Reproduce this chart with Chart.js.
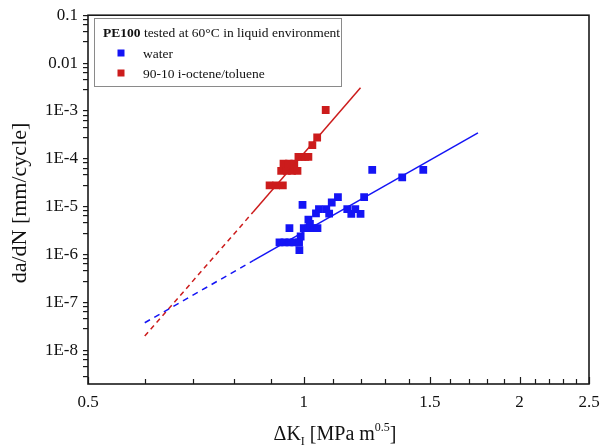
<!DOCTYPE html>
<html>
<head>
<meta charset="utf-8">
<script src="https://cdn.jsdelivr.net/npm/chart.js@4.4.1/dist/chart.umd.min.js"></script>
<style>
html, body { margin: 0; padding: 0; background: #fff; }
</style>
</head>
<body>
<canvas id="crackChart" width="612" height="446"></canvas>
<script>
// crack growth rate vs stress intensity factor range
const waterK = [0.925, 0.94, 0.955, 0.97, 0.985, 0.986, 0.99, 0.955, 0.996, 1.0, 1.015, 1.03, 1.045, 1.015, 1.02,
    1.04, 1.05, 1.075, 1.085, 1.094, 1.116, 1.15, 1.165, 1.18, 1.2, 1.214, 1.246, 1.372, 1.468]
const waterRate = [1.8e-6, 1.8e-6, 1.8e-6, 1.8e-6, 1.8e-6, 1.25e-6, 2.4e-6, 3.6e-6, 1.1e-5, 3.6e-6, 3.6e-6, 3.6e-6, 3.6e-6, 5.4e-6, 4.4e-6,
    7.3e-6, 8.9e-6, 8.9e-6, 7.2e-6, 1.23e-5, 1.6e-5, 8.9e-6, 7.1e-6, 8.9e-6, 7.1e-6, 1.6e-5, 5.9e-5, 4.1e-5, 5.9e-5]

const tolueneK = [0.896, 0.915, 0.935, 0.93, 0.947, 0.963, 0.98, 0.937, 0.953, 0.97, 0.983, 0.995, 1.005, 1.015, 1.028, 1.044, 1.073]
const tolueneRate = [2.8e-5, 2.8e-5, 2.8e-5, 5.6e-5, 5.6e-5, 5.6e-5, 5.6e-5, 8e-5, 8e-5, 8e-5, 1.1e-4, 1.1e-4, 1.1e-4, 1.1e-4, 1.95e-4, 2.8e-4, 1.05e-3]

// fitted power law lines: dashed extrapolation up to the middle point, solid after
const waterFitK = [0.6, 0.85, 1.75]
const waterFitRate = [3.8e-8, 7.5e-7, 3.5e-4]
const tolueneFitK = [0.6, 0.85, 1.2]
const tolueneFitRate = [2e-8, 7.8e-6, 3.05e-3]

// axis ticks
const xTickValues = [0.5, 0.6, 0.7, 0.8, 0.9, 1, 1.1, 1.2, 1.3, 1.4, 1.5, 1.6, 1.7, 1.8, 1.9, 2, 2.1, 2.2, 2.3, 2.4, 2.5]
const xTickLabels = ["0.5", "", "", "", "", "1", "", "", "", "", "1.5", "", "", "", "", "2", "", "", "", "", "2.5"]
const yMajorValues = [1e-8, 1e-7, 1e-6, 1e-5, 1e-4, 1e-3, 0.01, 0.1]
const yMajorLabels = ["1E-8", "1E-7", "1E-6", "1E-5", "1E-4", "1E-3", "0.01", "0.1"]
const yMinorSteps = [2.8, 4.6, 6.4, 8.2]

const blue = "#1414f5"
const red = "#cc1c1c"
const serif = "'Liberation Serif', 'Times New Roman', serif"

function toPoints(xs, ys){
    return xs.map((x, i) => ({x: x, y: ys[i]}))
}

function yTickList(){
    const list = []
    yMajorValues.forEach(v => list.push({value: v}))
    const decades = [1e-9].concat(yMajorValues.slice(0, -1))
    decades.forEach(d => {
        yMinorSteps.forEach(s => {
            const v = Number((s * d).toPrecision(3))
            if (v >= 2e-9) list.push({value: v})
        })
    })
    return list.sort((a, b) => a.value - b.value)
}

// frame, inward x ticks, axis titles and the boxed legend
const decorPlugin = {
    id: 'decor',
    afterDraw(chart){
        const {ctx, chartArea: a, scales} = chart
        ctx.save()
        ctx.strokeStyle = "#1a1a1a"
        ctx.lineWidth = 1.2
        scales.x.ticks.forEach(t => {
            const px = Math.round(scales.x.getPixelForValue(t.value)) + 0.5
            const len = t.label ? 7 : 5
            ctx.beginPath()
            ctx.moveTo(px, a.bottom)
            ctx.lineTo(px, a.bottom - len)
            ctx.stroke()
        })
        ctx.lineWidth = 1.6
        ctx.strokeRect(a.left, a.top, a.right - a.left, a.bottom - a.top)

        // y title
        ctx.fillStyle = "#111"
        ctx.font = "22px " + serif
        ctx.textAlign = "center"
        ctx.textBaseline = "middle"
        ctx.save()
        ctx.translate(20, 203)
        ctx.rotate(-Math.PI / 2)
        ctx.fillText("da/dN [mm/cycle]", 0, 0)
        ctx.restore()

        // x title with subscript and superscript
        const parts = [
            {t: "\u0394K", f: 20, dy: 0},
            {t: "I", f: 12, dy: 5},
            {t: " [MPa m", f: 20, dy: 0},
            {t: "0.5", f: 12, dy: -9},
            {t: "]", f: 20, dy: 0}
        ]
        ctx.textAlign = "left"
        ctx.textBaseline = "alphabetic"
        let total = 0
        parts.forEach(p => { ctx.font = p.f + "px " + serif; p.w = ctx.measureText(p.t).width; total += p.w })
        let cx = 335 - total / 2
        parts.forEach(p => {
            ctx.font = p.f + "px " + serif
            ctx.fillText(p.t, cx, 440 + p.dy)
            cx += p.w
        })

        // legend box
        ctx.strokeStyle = "#8a8a8a"
        ctx.lineWidth = 1
        ctx.strokeRect(94.5, 18.5, 247, 68)
        ctx.font = "bold 13.5px " + serif
        ctx.fillText("PE100", 103, 37)
        const bw = ctx.measureText("PE100").width
        ctx.font = "13.5px " + serif
        ctx.fillText(" tested at 60\u00b0C in liquid environment", 103 + bw, 37)
        const rows = [
            {label: "water", color: blue, y: 53},
            {label: "90-10 i-octene/toluene", color: red, y: 73}
        ]
        rows.forEach(r => {
            ctx.fillStyle = r.color
            ctx.fillRect(117.5, r.y - 3.5, 7, 7)
            ctx.fillStyle = "#111"
            ctx.fillText(r.label, 143, r.y + 4.5)
        })
        ctx.restore()
    }
}

new Chart(document.getElementById("crackChart"), {
    type: 'scatter',
    data: {
        datasets: [
            {
                label: "water fit",
                data: toPoints(waterFitK, waterFitRate),
                showLine: true,
                borderColor: blue,
                borderWidth: 1.5,
                pointRadius: 0,
                segment: { borderDash: ctx => ctx.p0DataIndex === 0 ? [6, 5] : [] }
            },
            {
                label: "toluene fit",
                data: toPoints(tolueneFitK, tolueneFitRate),
                showLine: true,
                borderColor: red,
                borderWidth: 1.5,
                pointRadius: 0,
                segment: { borderDash: ctx => ctx.p0DataIndex === 0 ? [5, 4] : [] }
            },
            {
                label: "water",
                data: toPoints(waterK, waterRate),
                backgroundColor: blue,
                borderWidth: 0,
                pointStyle: 'rect',
                pointRadius: 5.5
            },
            {
                label: "90-10 i-octene/toluene",
                data: toPoints(tolueneK, tolueneRate),
                backgroundColor: red,
                borderWidth: 0,
                pointStyle: 'rect',
                pointRadius: 5.5
            }
        ]
    },
    options: {
        responsive: false,
        animation: false,
        layout: { padding: { top: 15, right: 23, left: 0, bottom: 0 } },
        plugins: {
            legend: { display: false },
            tooltip: { enabled: false }
        },
        scales: {
            x: {
                type: 'logarithmic',
                min: 0.5,
                max: 2.5,
                bounds: 'data',
                afterBuildTicks: scale => { scale.ticks = xTickValues.map(v => ({value: v})) },
                afterFit: scale => { scale.height = 62 },
                grid: { display: false, drawTicks: false },
                border: { display: false },
                ticks: {
                    autoSkip: false,
                    maxRotation: 0,
                    padding: 8,
                    color: "#111",
                    font: { family: serif, size: 17 },
                    callback: (value, i) => xTickLabels[i]
                }
            },
            y: {
                type: 'logarithmic',
                min: 2e-9,
                max: 0.1,
                bounds: 'data',
                afterBuildTicks: scale => { scale.ticks = yTickList() },
                afterFit: scale => { scale.width = 88 },
                grid: { drawOnChartArea: false, drawTicks: true, tickLength: 5, color: "#1a1a1a", lineWidth: 1.2 },
                border: { display: false },
                ticks: {
                    autoSkip: false,
                    padding: 5,
                    color: "#111",
                    font: { family: serif, size: 17 },
                    callback: value => {
                        const i = yMajorValues.findIndex(v => Math.abs(v - value) / v < 1e-6)
                        return i >= 0 ? yMajorLabels[i] : ""
                    }
                }
            }
        }
    },
    plugins: [decorPlugin]
})
</script>
</body>
</html>
